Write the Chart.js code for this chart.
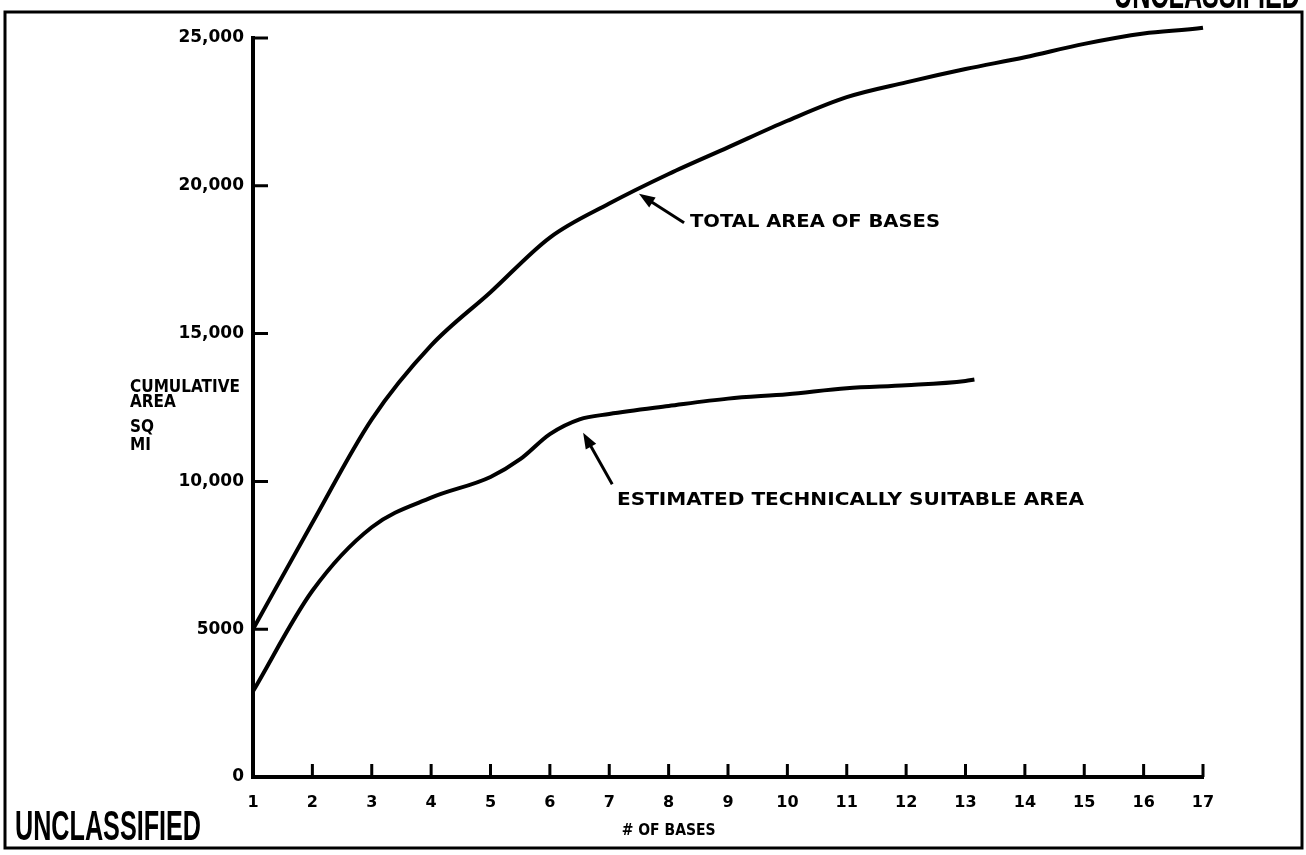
<!DOCTYPE html>
<html>
<head>
<meta charset="utf-8">
<title>Cumulative area vs # of bases</title>
<script src="https://cdn.jsdelivr.net/npm/chart.js@4.4.0/dist/chart.umd.min.js"></script>
<style>
  html, body { margin: 0; padding: 0; background: #fff; }
  #wrap { width: 1306px; height: 855px; position: relative; }
</style>
</head>
<body>
<div id="wrap"><canvas id="chart"></canvas></div>
<script>
// values (x = # of bases, y = cumulative area, sq mi)
const totalBases = [1, 2, 3, 4, 5, 6, 7, 8, 9, 10, 11, 12, 13, 14, 15, 16, 17, 17.25];
const totalArea = [5000, 8600, 12100, 14600, 16400, 18250, 19400, 20400, 21300, 22200, 23000, 23500, 23950, 24350, 24800, 25150, 25350, 25450];

const suitableBases = [1, 2, 3, 4, 5, 5.5, 6, 6.5, 7, 8, 9, 10, 11, 12, 13, 13.15];
const suitableArea = [2900, 6300, 8450, 9450, 10150, 10750, 11600, 12100, 12280, 12550, 12800, 12950, 13150, 13250, 13400, 13450];

const xTickValues = [1, 2, 3, 4, 5, 6, 7, 8, 9, 10, 11, 12, 13, 14, 15, 16, 17];
const yTickValues = [0, 5000, 10000, 15000, 20000, 25000];
const yTickLabels = ['0', '5000', '10,000', '15,000', '20,000', '25,000'];

const yTitleLines = ['CUMULATIVE', 'AREA', 'SQ', 'MI'];
const xTitle = '# OF BASES';
const stamp = 'UNCLASSIFIED';

// callouts, placed in data units
const notes = [
    { text: 'TOTAL AREA OF BASES', tip: [7.5, 19730], tail: [8.26, 18750], at: [8.36, 18750], width: 250 },
    { text: 'ESTIMATED TECHNICALLY SUITABLE AREA', tip: [6.56, 11650], tail: [7.05, 9900], at: [7.13, 9360], width: 467 }
];

const FONT = '"DejaVu Sans", "Liberation Sans", sans-serif';

function toPoints(xs, ys) {
    return xs.map((x, i) => ({ x: x, y: ys[i] }));
}

// draws text squeezed (or stretched) to a given width
function fitText(ctx, text, x, y, width) {
    const w = ctx.measureText(text).width;
    ctx.save();
    ctx.translate(x, y);
    ctx.scale(width / w, 1);
    ctx.fillText(text, 0, 0);
    ctx.restore();
    return width / w;
}

// ticks point inward on this chart, so they are drawn by hand
const innerTicks = {
    id: 'innerTicks',
    afterDatasetsDraw(chart) {
        const { ctx, chartArea: a, scales: { x, y } } = chart;
        ctx.save();
        ctx.strokeStyle = '#000';
        ctx.lineWidth = 3;
        ctx.beginPath();
        y.ticks.forEach(t => {
            if (t.value === 0) return;
            const py = y.getPixelForValue(t.value);
            ctx.moveTo(a.left, py);
            ctx.lineTo(a.left + 15, py);
        });
        x.ticks.forEach(t => {
            if (t.value === 1) return;
            const px = x.getPixelForValue(t.value);
            ctx.moveTo(px, a.bottom);
            ctx.lineTo(px, a.bottom - 13);
        });
        ctx.stroke();
        ctx.restore();
    }
};

// arrows, callout text, axis titles, frame and classification stamps
const decorations = {
    id: 'decorations',
    afterDraw(chart) {
        const { ctx, chartArea: a, scales: { x, y } } = chart;
        ctx.save();
        ctx.fillStyle = '#000';
        ctx.strokeStyle = '#000';

        notes.forEach(n => {
            const tx = x.getPixelForValue(n.tip[0]), ty = y.getPixelForValue(n.tip[1]);
            const sx = x.getPixelForValue(n.tail[0]), sy = y.getPixelForValue(n.tail[1]);
            const ang = Math.atan2(ty - sy, tx - sx);
            ctx.lineWidth = 3;
            ctx.beginPath();
            ctx.moveTo(sx, sy);
            ctx.lineTo(tx - 10 * Math.cos(ang), ty - 10 * Math.sin(ang));
            ctx.stroke();
            ctx.beginPath();
            ctx.moveTo(tx, ty);
            ctx.lineTo(tx - 16 * Math.cos(ang) + 6 * Math.sin(ang), ty - 16 * Math.sin(ang) - 6 * Math.cos(ang));
            ctx.lineTo(tx - 16 * Math.cos(ang) - 6 * Math.sin(ang), ty - 16 * Math.sin(ang) + 6 * Math.cos(ang));
            ctx.closePath();
            ctx.fill();

            ctx.font = 'bold 18px ' + FONT;
            ctx.textBaseline = 'middle';
            ctx.textAlign = 'left';
            fitText(ctx, n.text, x.getPixelForValue(n.at[0]), y.getPixelForValue(n.at[1]), n.width);
        });

        // y title, left aligned block
        ctx.font = 'bold 17px ' + FONT;
        ctx.textBaseline = 'middle';
        ctx.textAlign = 'left';
        const squeeze = 110 / ctx.measureText(yTitleLines[0]).width;
        const rows = [388, 403, 428, 446];
        yTitleLines.forEach((line, i) => {
            ctx.save();
            ctx.translate(130, rows[i]);
            ctx.scale(squeeze, 1);
            ctx.fillText(line, 0, 0);
            ctx.restore();
        });

        // x title under 8
        ctx.font = 'bold 16px ' + FONT;
        const xw = 94;
        fitText(ctx, xTitle, x.getPixelForValue(8) - xw / 2, 831, xw);

        // frame
        ctx.lineWidth = 3;
        ctx.strokeRect(5, 12, 1297, 836);

        // stamps
        ctx.font = 'bold 42px "Liberation Sans Narrow", "Liberation Sans", sans-serif';
        ctx.textBaseline = 'alphabetic';
        fitText(ctx, stamp, 15, 840, 186);
        fitText(ctx, stamp, 1114, 8, 186);
        ctx.restore();
    }
};

const lineStyle = {
    borderColor: '#000',
    borderWidth: 4,
    pointRadius: 0,
    fill: false,
    cubicInterpolationMode: 'monotone',
    clip: false
};

new Chart(document.getElementById('chart'), {
    type: 'line',
    data: {
        datasets: [
            Object.assign({ label: 'Total area of bases', data: toPoints(totalBases, totalArea) }, lineStyle),
            Object.assign({ label: 'Estimated technically suitable area', data: toPoints(suitableBases, suitableArea) }, lineStyle)
        ]
    },
    options: {
        responsive: true,
        maintainAspectRatio: false,
        animation: false,
        layout: { padding: { left: 133, right: 103, top: 38, bottom: 38 } },
        plugins: {
            legend: { display: false },
            tooltip: { enabled: false }
        },
        scales: {
            x: {
                type: 'linear',
                min: 1,
                max: 17,
                afterBuildTicks: s => { s.ticks = xTickValues.map(v => ({ value: v })); },
                afterFit: s => { s.height = 40; },
                grid: { display: false, drawTicks: false },
                border: { display: true, color: '#000', width: 4 },
                ticks: {
                    color: '#000',
                    padding: 16,
                    maxRotation: 0,
                    autoSkip: false,
                    font: { family: FONT, weight: 'bold', size: 16 }
                }
            },
            y: {
                min: 0,
                max: 25000,
                afterBuildTicks: s => { s.ticks = yTickValues.map(v => ({ value: v })); },
                afterFit: s => { s.width = 120; },
                grid: { display: false, drawTicks: false },
                border: { display: true, color: '#000', width: 4 },
                ticks: {
                    color: '#000',
                    padding: 9,
                    autoSkip: false,
                    font: { family: FONT, weight: 'bold', size: 17 },
                    callback: v => yTickLabels[yTickValues.indexOf(v)]
                }
            }
        }
    },
    plugins: [innerTicks, decorations]
});
</script>
</body>
</html>
